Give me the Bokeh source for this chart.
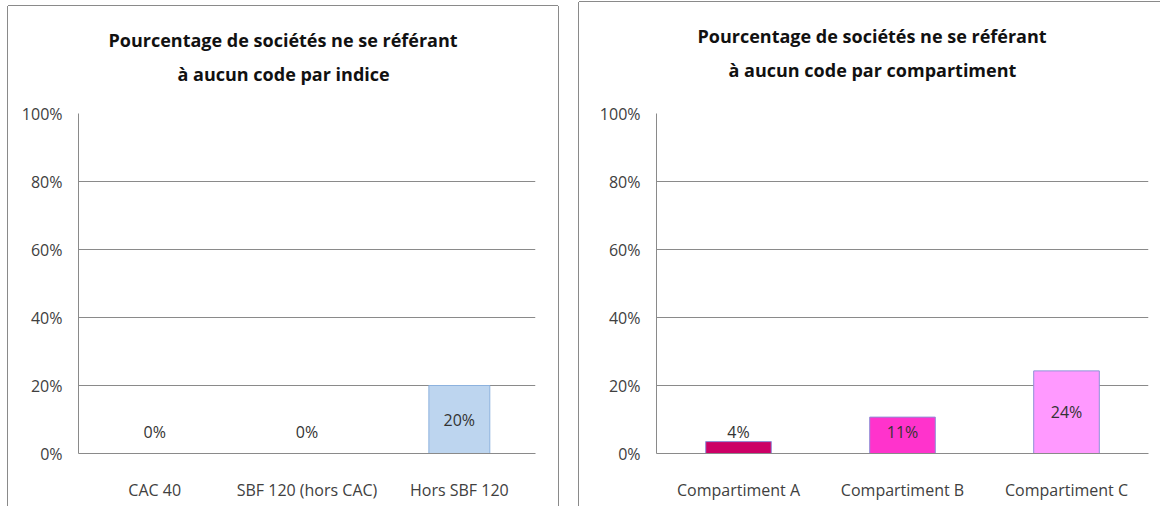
from bokeh.plotting import figure
from bokeh.models import ColumnDataSource, NumeralTickFormatter, FixedTicker, Range1d, Title
from bokeh.layouts import row, column
from bokeh.embed import file_html
from bokeh.resources import INLINE
from bokeh.core.properties import value

FONT = "Open Sans"

# ---- data ----
title_left = ["Pourcentage de sociétés ne se référant", "à aucun code par indice"]
categories_left = ["CAC 40", "SBF 120 (hors CAC)", "Hors SBF 120"]
values_left = [0.0, 0.0, 0.20]
colors_left = ["#BDD5EF", "#BDD5EF", "#BDD5EF"]

title_right = ["Pourcentage de sociétés ne se référant", "à aucun code par compartiment"]
categories_right = ["Compartiment A", "Compartiment B", "Compartiment C"]
values_right = [0.035, 0.107, 0.243]
colors_right = ["#CC0066", "#FF33CC", "#FF99FF"]

y_ticks = [0.0, 0.2, 0.4, 0.6, 0.8, 1.0]

GRID = "#8a8a8a"
TXT = "#404040"
TITLE_H = 81


def make_title(lines, width, offsets):
    t = figure(width=width, height=TITLE_H, x_range=Range1d(0, 1), y_range=Range1d(0, 1),
               x_axis_location=None, y_axis_location=None,
               output_backend="svg", toolbar_location=None,
               min_border_left=0, min_border_right=0, min_border_top=0, min_border_bottom=0)
    t.outline_line_color = None
    t.background_fill_color = "white"
    t.border_fill_color = "white"
    t.grid.visible = False
    for txt, so, off in zip(lines, [16, 0], offsets):
        t.add_layout(Title(text=txt, align="left", offset=off,
                           vertical_align="top", standoff=so,
                           text_font=FONT, text_font_style="bold", text_font_size="18px",
                           text_color="#111111"), "below")
    return t


def make_chart(cats, vals, fills, outline, width, height, mb_left, mb_right, mb_top, mb_bottom):
    src = ColumnDataSource(dict(
        cat=cats, val=vals, fill=fills,
        label=[f"{round(v * 100)}%" for v in vals],
        label_y=[max(v / 2, 0.062) for v in vals],
    ))
    p = figure(x_range=cats, y_range=Range1d(0, 1), width=width, height=height,
               output_backend="svg", toolbar_location=None,
               min_border_left=mb_left, min_border_right=mb_right,
               min_border_top=mb_top, min_border_bottom=mb_bottom)
    p.background_fill_color = "white"
    p.border_fill_color = "white"
    p.outline_line_color = None

    p.vbar(x="cat", top="val", bottom=0, width=0.4, source=src,
           fill_color="fill", line_color=outline, line_width=1)
    p.text(x="cat", y="label_y", text="label", source=src,
           text_align="center", text_baseline="middle",
           text_font=value(FONT), text_font_size="16px", text_color="#333333")

    p.xgrid.grid_line_color = None
    p.ygrid.grid_line_color = GRID
    p.ygrid.grid_line_width = 1
    p.yaxis.ticker = FixedTicker(ticks=y_ticks)
    p.yaxis.formatter = NumeralTickFormatter(format="0%")

    for ax in (p.xaxis[0], p.yaxis[0]):
        ax.axis_line_color = GRID
        ax.major_tick_line_color = None
        ax.minor_tick_line_color = None
        ax.major_label_text_font = FONT
        ax.major_label_text_font_size = "16px"
        ax.major_label_text_color = TXT
    p.yaxis.major_label_standoff = 10
    p.xaxis.major_label_standoff = 19
    return p


left = column(
    make_title(title_left, 550, [30, 99]),
    make_chart(categories_left, values_left, colors_left, "#8DB2DE",
               550, 419, 70, 23, 26, 53),
    margin=(6, 0, 0, 8),
    styles={"box-shadow": "-1px 0 0 0 #8a8a8a, 1px 0 0 0 #8a8a8a, 0 -1px 0 0 #8a8a8a"},
)
right = column(
    make_title(title_right, 581, [41, 72]),
    make_chart(categories_right, values_right, colors_right, "#8F8FD8",
               581, 423, 77, 12, 30, 53),
    margin=(2, 0, 0, 21),
    styles={"box-shadow": "-1px 0 0 0 #8a8a8a, 0 -1px 0 0 #8a8a8a"},
)

layout = row(left, right)

open("out.html", "w").write(file_html(layout, INLINE))
